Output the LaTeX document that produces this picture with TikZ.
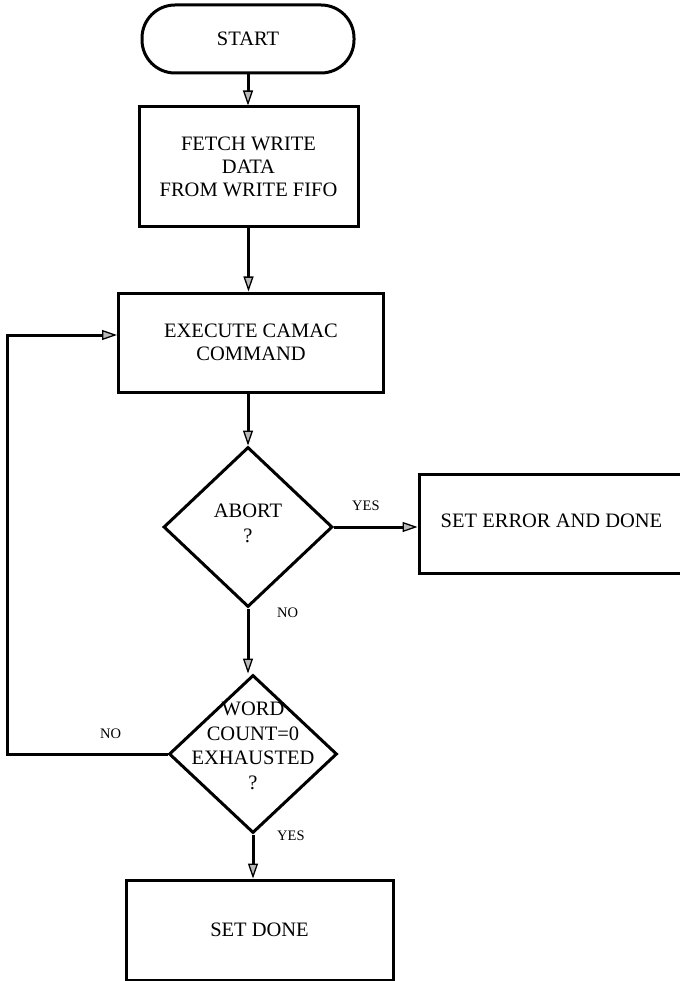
\documentclass[tikz,border=0pt]{standalone}
\usepackage{fontspec}
\setmainfont{Liberation Serif}
\usetikzlibrary{shapes.geometric,arrows.meta}
\begin{document}
\begin{tikzpicture}[x=1pt,y=-1pt,
  every node/.style={inner sep=0pt},
  boxtxt/.style={font=\fontsize{20.5pt}{23pt}\selectfont, align=center},
  procbox/.style={draw, line width=3pt, boxtxt},
  termbox/.style={draw, line width=3pt, rounded corners=33pt, boxtxt},
  decbox/.style={draw, diamond, line width=3pt},
  dectxt/.style={font=\fontsize{20.5pt}{24.5pt}\selectfont, align=center},
  lbl/.style={font=\fontsize{14.5pt}{16pt}\selectfont, anchor=base west},
  conn/.style={line width=3pt},
  arr/.style={conn, -{Triangle[length=15pt,width=10pt,fill=gray!55,line width=1.3pt]}}
]
\useasboundingbox (0,0) rectangle (679,981);

\node[termbox, minimum width=212pt, minimum height=68pt] (start) at (248,39) {START};
\node[procbox, minimum width=219pt, minimum height=120pt] (fetch) at (248.5,167) {FETCH WRITE\\DATA\\FROM WRITE FIFO};
\node[procbox, minimum width=265pt, minimum height=99pt] (exec) at (251,342.5) {EXECUTE CAMAC\\COMMAND};
\node[decbox, minimum width=169pt, minimum height=160pt] (abort) at (248,527) {};
\node[dectxt] (aborttxt) at (248,523.5) {ABORT\\?};
\node[procbox, minimum width=265pt, minimum height=99pt] (seterr) at (551.5,523.5) {\smash{\raisebox{-3.5pt}{SET ERROR AND DONE}}};
\node[decbox, minimum width=168pt, minimum height=158pt] (word) at (253,754) {};
\node[dectxt] (wordtxt) at (253,746) {WORD\\COUNT=0\\EXHAUSTED\\?};
\node[procbox, minimum width=267pt, minimum height=100pt] (setdone) at (259.5,930) {SET DONE};

\coordinate (looptop) at (7,335);

\draw[arr] (start.south) -- (start.south |- fetch.north);
\draw[arr] (fetch.south) -- (fetch.south |- exec.north);
\draw[arr] (abort.north |- exec.south) -- (abort.north);
\draw[arr] (abort.east) -- (abort.east -| seterr.west);
\draw[arr] (abort.south) -- (abort.south |- word.north);
\draw[arr] (word.west) -| (looptop) -- (looptop -| exec.west);
\draw[arr] (word.south) -- (word.south |- setdone.north);

\node[lbl] (yes1) at (352,510) {YES};
\node[lbl] (no1) at (277,617) {NO};
\node[lbl] (no2) at (100,738) {NO};
\node[lbl] (yes2) at (277,840) {YES};
\end{tikzpicture}
\end{document}
